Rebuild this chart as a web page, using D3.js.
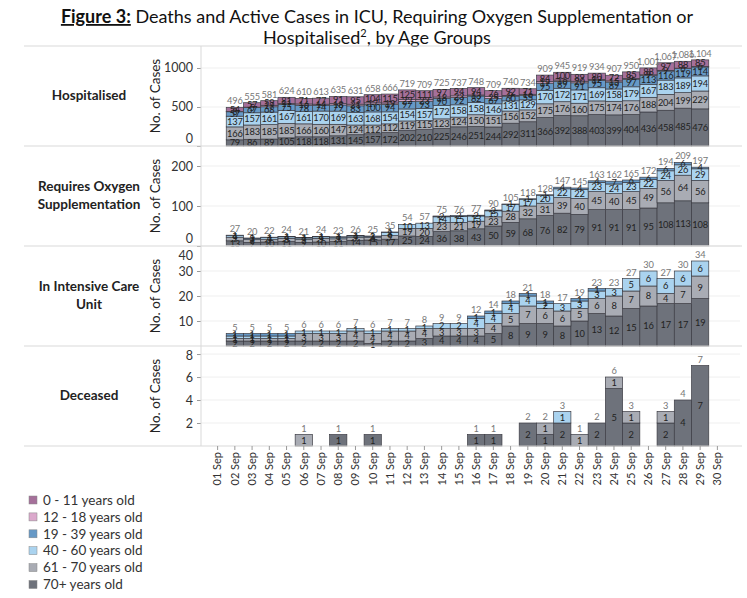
<!DOCTYPE html>
<html>
<head>
<meta charset="utf-8">
<script src="https://cdn.jsdelivr.net/npm/d3@7"></script>
<style>
  body { margin: 0; background: #fff; }
  svg { font-family: Lato, "Open Sans", sans-serif; }
</style>
</head>
<body>
<div id="chart"></div>
<script>
// Width and height
var w = 747;
var h = 598;

// Dates on the x axis
var dates = ["01 Sep","02 Sep","03 Sep","04 Sep","05 Sep","06 Sep","07 Sep","08 Sep","09 Sep","10 Sep",
  "11 Sep","12 Sep","13 Sep","14 Sep","15 Sep","16 Sep","17 Sep","18 Sep","19 Sep","20 Sep",
  "21 Sep","22 Sep","23 Sep","24 Sep","25 Sep","26 Sep","27 Sep","28 Sep","29 Sep","30 Sep"];

// Age groups (legend order, top of stack first)
var ageGroups = ["0 - 11 years old","12 - 18 years old","19 - 39 years old",
  "40 - 60 years old","61 - 70 years old","70+ years old"];
var ageColors = ["#a5709a","#dba9cc","#6699c6","#aad3ef","#a9acb4","#6e727b"];

// Hospitalised
var hosp0  = [null,54,57,59,81,71,77,91,95,104,115,125,111,97,94,94,76,92,71,84,100,89,80,72,85,88,97,88,85,null];
var hosp12 = [null,3,5,19,11,16,14,18,21,17,19,22,23,18,23,13,25,9,16,19,16,20,12,15,9,9,9,6,6,null];
var hosp19 = [null,57,67,68,75,78,74,79,83,100,94,97,93,90,92,82,67,60,55,95,89,91,95,89,97,113,116,119,114,null];
var hosp40 = [null,137,157,161,167,161,170,169,163,168,154,154,157,172,158,158,146,131,129,170,172,171,169,158,179,167,183,189,194,null];
var hosp61 = [null,166,183,185,185,166,160,147,124,112,112,119,115,123,124,150,151,156,152,175,176,160,175,174,176,188,204,199,229,null];
var hosp70 = [null,79,86,89,105,118,118,131,145,157,172,202,210,225,246,251,244,292,311,366,392,388,403,399,404,436,458,485,476,null];

// Requires oxygen supplementation
var oxy19 = [null,1,1,1,1,1,1,1,1,1,1,0,0,2,2,2,2,1,1,1,4,4,4,7,6,6,6,6,4,null];
var oxy40 = [null,4,3,4,4,4,4,4,4,3,8,10,13,14,15,13,15,17,17,20,22,22,23,24,23,22,24,26,29,null];
var oxy61 = [null,9,7,7,8,7,9,7,7,6,9,19,20,23,21,19,23,28,32,31,39,40,45,40,45,49,56,64,56,null];
var oxy70 = [null,13,9,10,11,9,10,11,14,15,17,25,24,36,38,43,50,59,68,76,82,79,91,91,91,95,108,113,108,null];

// In intensive care unit
var icu19 = [null,1,1,1,1,0,0,0,0,0,0,0,0,0,0,1,1,1,1,1,0,1,1,0,0,0,0,0,0,null];
var icu40 = [null,1,1,1,1,1,1,1,1,1,1,1,1,2,2,4,4,4,4,2,3,3,3,3,5,6,6,6,6,null];
var icu61 = [null,1,1,1,1,3,3,3,4,4,4,4,4,3,3,3,4,5,7,6,6,5,6,8,7,8,4,7,9,null];
var icu70 = [null,2,2,2,2,2,2,2,2,1,2,2,3,4,4,4,5,8,9,9,8,10,13,12,15,16,17,17,19,null];

// Deceased
var dec40 = [0,0,0,0,0,0,0,0,0,0,0,0,0,0,0,0,0,0,0,0,1,0,0,0,0,0,0,0,0,0];
var dec61 = [0,0,0,0,0,1,0,0,0,0,0,0,0,0,0,0,0,0,0,1,0,1,0,1,1,0,1,0,0,0];
var dec70 = [0,0,0,0,0,0,0,1,0,1,0,0,0,0,0,1,1,0,2,1,2,0,2,5,2,0,2,4,7,0];

// Tick values per panel
var hospTicks = [0, 500, 1000];
var oxyTicks = [0, 100, 200];
var icuTicks = [10, 20, 30, 40];
var decTicks = [2, 4, 6, 8];

// Panels, series given in legend order (0-11 first)
var panels = [
  {label: ["Hospitalised"], series: [hosp0, hosp12, hosp19, hosp40, hosp61, hosp70], max: 1282, ticks: hospTicks},
  {label: ["Requires Oxygen", "Supplementation"], series: [null, null, oxy19, oxy40, oxy61, oxy70], max: 250, ticks: oxyTicks},
  {label: ["In Intensive Care", "Unit"], series: [null, null, icu19, icu40, icu61, icu70], max: 40, ticks: icuTicks},
  {label: ["Deceased"], series: [null, null, null, dec40, dec61, dec70], max: 8.7, ticks: decTicks}
];

var panelTop = 46;
var panelH = 100;
var axisX = 201;

var svg = d3.select("#chart")
  .append("svg")
  .attr("width", w)
  .attr("height", h);

// Title
var t1 = svg.append("text")
  .attr("x", 377).attr("y", 23)
  .attr("text-anchor", "middle")
  .attr("font-size", 18)
  .attr("fill", "#111");
t1.append("tspan").attr("font-weight", "bold").attr("text-decoration", "underline").text("Figure 3:");
t1.append("tspan").text(" Deaths and Active Cases in ICU, Requiring Oxygen Supplementation or");

var t2 = svg.append("text")
  .attr("x", 377).attr("y", 44)
  .attr("text-anchor", "middle")
  .attr("font-size", 18)
  .attr("fill", "#111");
t2.append("tspan").text("Hospitalised");
t2.append("tspan").attr("font-size", 11).attr("dy", -7).text("2");
t2.append("tspan").attr("dy", 7).text(", by Age Groups");

// x scale
var xScale = d3.scaleBand()
  .domain(dates)
  .range([209, 726])
  .padding(0);

// Stack keys bottom to top: 70+ first
var stackOrder = [5, 4, 3, 2, 1, 0];

panels.forEach(function(p, pi) {
  var top = panelTop + pi * panelH;
  var bottom = top + panelH;

  var yScale = d3.scaleLinear()
    .domain([0, p.max])
    .range([bottom, top]);

  // rows for stacking
  var rows = dates.map(function(d, i) {
    var r = {date: d};
    stackOrder.forEach(function(k) {
      r["g" + k] = p.series[k] ? (p.series[k][i] || 0) : 0;
    });
    return r;
  });

  var stack = d3.stack().keys(stackOrder.map(function(k) { return "g" + k; }));
  var layers = stack(rows);

  var g = svg.append("g").attr("class", "panel");

  // gridlines
  g.selectAll("line.grid")
    .data(p.ticks.filter(function(t) { return t > 0; }))
    .enter()
    .append("line")
    .attr("x1", axisX).attr("x2", 740)
    .attr("y1", function(d) { return yScale(d); })
    .attr("y2", function(d) { return yScale(d); })
    .attr("stroke", "#efefef");

  // bars
  layers.forEach(function(layer) {
    var k = +layer.key.slice(1);
    g.append("g")
      .selectAll("rect")
      .data(layer.filter(function(d) { return d[1] - d[0] > 0; }))
      .enter()
      .append("rect")
      .attr("x", function(d) { return xScale(d.data.date); })
      .attr("width", xScale.bandwidth())
      .attr("y", function(d) { return yScale(d[1]); })
      .attr("height", function(d) { return yScale(d[0]) - yScale(d[1]); })
      .attr("fill", ageColors[k])
      .attr("stroke", "#3c3c44")
      .attr("stroke-width", 0.7);
  });

  // segment labels
  layers.forEach(function(layer) {
    g.append("g")
      .selectAll("text")
      .data(layer.filter(function(d) { return d[1] - d[0] > 0; }))
      .enter()
      .append("text")
      .attr("x", function(d) { return xScale(d.data.date) + xScale.bandwidth() / 2; })
      .attr("y", function(d) { return (yScale(d[0]) + yScale(d[1])) / 2; })
      .attr("dy", "0.35em")
      .attr("text-anchor", "middle")
      .attr("font-size", 9.3)
      .attr("letter-spacing", -0.2)
      .attr("fill", "#222")
      .text(function(d) { return d[1] - d[0]; });
  });

  // totals
  var last = layers[layers.length - 1];
  g.append("g")
    .selectAll("text")
    .data(last.filter(function(d) { return d[1] > 0; }))
    .enter()
    .append("text")
    .attr("x", function(d) { return xScale(d.data.date) + xScale.bandwidth() / 2; })
    .attr("y", function(d) { return yScale(d[1]) - 3; })
    .attr("text-anchor", "middle")
    .attr("font-size", 9.3)
    .attr("letter-spacing", -0.2)
    .attr("fill", "#777")
    .text(function(d) { return d3.format(",")(d[1]); });

  // y axis
  var yAxis = d3.axisLeft(yScale)
    .tickValues(p.ticks)
    .tickFormat(d3.format("d"))
    .tickSize(4)
    .tickPadding(4);
  var ya = svg.append("g")
    .attr("class", "y axis")
    .attr("transform", "translate(" + axisX + ",0)")
    .call(yAxis);
  ya.select(".domain").remove();
  ya.selectAll("line").attr("stroke", "#999");
  ya.selectAll("text")
    .attr("font-size", 12.5)
    .attr("font-family", "Lato, sans-serif")
    .attr("fill", "#333")
    .attr("y", function(d) {
      var yy = yScale(d);
      var c = Math.max(top + 9, Math.min(bottom - 8, yy));
      return c - yy;
    });

  // axis title
  svg.append("text")
    .attr("transform", "translate(160," + (top + panelH / 2) + ") rotate(-90)")
    .attr("text-anchor", "middle")
    .attr("font-size", 13.5)
    .attr("fill", "#222")
    .text("No. of Cases");

  // row label
  var rl = svg.append("text")
    .attr("x", 89)
    .attr("y", top + panelH / 2 - (p.label.length - 1) * 9 + 4)
    .attr("text-anchor", "middle")
    .attr("font-size", 13.5)
    .attr("font-weight", "bold")
    .attr("fill", "#222");
  p.label.forEach(function(s, i) {
    rl.append("tspan").attr("x", 89).attr("dy", i === 0 ? 0 : 18).text(s);
  });
});

// separators
var seps = d3.range(5).map(function(i) { return panelTop + i * panelH; });
svg.selectAll("line.sep")
  .data(seps)
  .enter()
  .append("line")
  .attr("x1", 24).attr("x2", 742)
  .attr("y1", function(d) { return d; })
  .attr("y2", function(d) { return d; })
  .attr("stroke", "#d9d9d9");

svg.append("line")
  .attr("x1", axisX).attr("x2", axisX)
  .attr("y1", panelTop).attr("y2", panelTop + 4 * panelH)
  .attr("stroke", "#d9d9d9");

// x axis
var xAxis = d3.axisBottom(xScale).tickSize(4).tickPadding(3);
var xa = svg.append("g")
  .attr("class", "x axis")
  .attr("transform", "translate(0," + (panelTop + 4 * panelH) + ")")
  .call(xAxis);
xa.select(".domain").remove();
xa.selectAll("line").attr("stroke", "#999");
xa.selectAll("text")
  .attr("font-size", 11)
  .attr("font-family", "Lato, sans-serif")
  .attr("fill", "#333")
  .attr("transform", "rotate(-90)")
  .attr("text-anchor", "end")
  .attr("x", -6)
  .attr("y", 0)
  .attr("dy", "0.35em");

// legend
var legend = svg.append("g")
  .attr("class", "legend")
  .selectAll("g")
  .data(ageGroups)
  .enter()
  .append("g")
  .attr("transform", function(d, i) { return "translate(29," + (500 + i * 16.9) + ")"; });

legend.append("rect")
  .attr("x", 0).attr("y", -4)
  .attr("width", 8).attr("height", 8)
  .attr("fill", function(d, i) { return ageColors[i]; })
  .attr("stroke", "#888")
  .attr("stroke-width", 0.5);

legend.append("text")
  .attr("x", 14)
  .attr("dy", "0.35em")
  .attr("font-size", 13.5)
  .attr("fill", "#333")
  .text(function(d) { return d; });
</script>
</body>
</html>
